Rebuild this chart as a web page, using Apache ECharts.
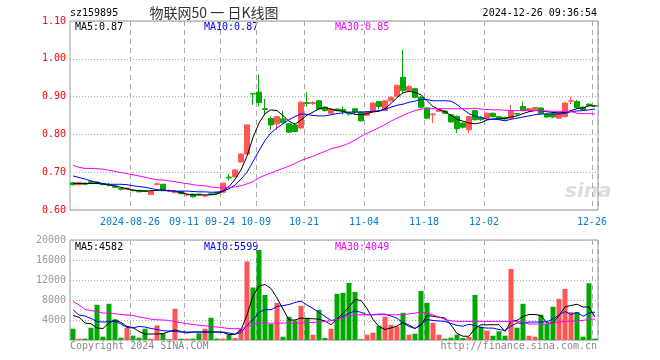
<!DOCTYPE html>
<html><head><meta charset="utf-8">
<script src="https://cdn.jsdelivr.net/npm/echarts@6/dist/echarts.min.js"></script>
<style>html,body{margin:0;padding:0;background:#fff}#c{width:660px;height:360px}</style>
</head><body><div id="c"></div>
<script>
const dates = ['2024-08-12','2024-08-13','2024-08-14','2024-08-15','2024-08-16','2024-08-19','2024-08-20','2024-08-21','2024-08-22','2024-08-23',
'2024-08-26','2024-08-27','2024-08-28','2024-08-29','2024-08-30','2024-09-02','2024-09-03','2024-09-04','2024-09-05','2024-09-11',
'2024-09-12','2024-09-13','2024-09-18','2024-09-19','2024-09-20','2024-09-24','2024-09-25','2024-09-26','2024-09-27','2024-09-30',
'2024-10-08','2024-10-09','2024-10-10','2024-10-11','2024-10-14','2024-10-15','2024-10-16','2024-10-17','2024-10-18','2024-10-21',
'2024-10-22','2024-10-23','2024-10-24','2024-10-25','2024-10-28','2024-10-29','2024-10-30','2024-10-31','2024-11-01','2024-11-04',
'2024-11-05','2024-11-06','2024-11-07','2024-11-08','2024-11-11','2024-11-12','2024-11-13','2024-11-14','2024-11-15','2024-11-18',
'2024-11-19','2024-11-20','2024-11-21','2024-11-22','2024-11-25','2024-11-26','2024-11-27','2024-11-28','2024-11-29','2024-12-02',
'2024-12-03','2024-12-04','2024-12-05','2024-12-06','2024-12-09','2024-12-10','2024-12-11','2024-12-12','2024-12-13','2024-12-16',
'2024-12-17','2024-12-18','2024-12-19','2024-12-20','2024-12-23','2024-12-24','2024-12-25','2024-12-26'];

// [open, close, low, high]
const ohlc = [
[0.672,0.667,0.665,0.674],[0.667,0.673,0.665,0.674],[0.671,0.668,0.667,0.672],[0.675,0.671,0.670,0.676],[0.674,0.670,0.669,0.675],
[0.670,0.667,0.666,0.671],[0.667,0.666,0.662,0.672],[0.663,0.660,0.659,0.664],[0.657,0.655,0.652,0.658],[0.655,0.658,0.654,0.659],
[0.652,0.651,0.650,0.653],[0.652,0.648,0.647,0.653],[0.651,0.649,0.648,0.652],[0.641,0.649,0.640,0.650],[0.668,0.669,0.665,0.673],
[0.668,0.651,0.650,0.669],[0.650,0.651,0.648,0.655],[0.646,0.648,0.645,0.649],[0.649,0.643,0.642,0.650],[0.640,0.641,0.637,0.643],
[0.642,0.635,0.633,0.643],[0.642,0.640,0.639,0.643],[0.637,0.638,0.635,0.640],[0.643,0.641,0.640,0.644],[0.647,0.644,0.642,0.648],
[0.647,0.671,0.646,0.672],[0.687,0.685,0.678,0.695],[0.688,0.706,0.686,0.708],[0.727,0.748,0.725,0.750],[0.748,0.825,0.746,0.826],
[0.908,0.907,0.878,0.909],[0.912,0.884,0.874,0.958],[0.868,0.866,0.850,0.894],[0.842,0.825,0.812,0.847],[0.828,0.847,0.812,0.848],
[0.841,0.831,0.829,0.863],[0.828,0.806,0.804,0.830],[0.825,0.808,0.806,0.830],[0.817,0.885,0.815,0.888],[0.884,0.882,0.873,0.912],
[0.882,0.884,0.878,0.888],[0.889,0.867,0.865,0.891],[0.872,0.863,0.860,0.874],[0.856,0.867,0.854,0.869],[0.867,0.863,0.861,0.869],
[0.866,0.862,0.852,0.874],[0.855,0.854,0.850,0.859],[0.868,0.859,0.852,0.870],[0.859,0.836,0.834,0.861],[0.850,0.859,0.848,0.860],
[0.859,0.883,0.857,0.884],[0.887,0.874,0.866,0.888],[0.863,0.889,0.862,0.890],[0.889,0.898,0.887,0.900],[0.901,0.930,0.900,0.932],
[0.951,0.916,0.910,1.024],[0.916,0.927,0.914,0.930],[0.921,0.898,0.895,0.923],[0.898,0.872,0.868,0.902],[0.870,0.843,0.840,0.872],
[0.852,0.854,0.830,0.856],[0.861,0.866,0.859,0.868],[0.862,0.856,0.854,0.864],[0.852,0.833,0.831,0.854],[0.848,0.815,0.803,0.850],
[0.830,0.819,0.816,0.832],[0.812,0.847,0.803,0.849],[0.863,0.839,0.836,0.865],[0.845,0.839,0.836,0.848],[0.841,0.856,0.839,0.858],
[0.856,0.847,0.845,0.858],[0.847,0.841,0.839,0.849],[0.845,0.841,0.839,0.847],[0.843,0.862,0.840,0.878],[0.855,0.854,0.851,0.857],
[0.874,0.863,0.861,0.887],[0.863,0.868,0.861,0.870],[0.865,0.871,0.863,0.872],[0.870,0.855,0.853,0.871],[0.854,0.846,0.844,0.856],
[0.854,0.846,0.843,0.856],[0.843,0.856,0.841,0.858],[0.847,0.883,0.845,0.885],[0.888,0.889,0.880,0.900],[0.887,0.871,0.868,0.891],
[0.872,0.866,0.864,0.874],[0.880,0.877,0.874,0.882],[0.876,0.875,0.873,0.878]];

const ma5 = [0.670,0.670,0.670,0.670,0.670,0.669,0.666,0.664,0.660,0.656,0.653,0.651,0.650,0.651,0.652,0.653,0.651,0.650,0.646,0.642,
0.640,0.640,0.640,0.640,0.642,0.650,0.662,0.681,0.706,0.742,0.792,0.830,0.855,0.865,0.863,0.850,0.835,0.827,0.838,0.851,
0.859,0.868,0.871,0.867,0.863,0.861,0.858,0.853,0.852,0.855,0.860,0.861,0.868,0.882,0.897,0.910,0.914,0.911,0.905,0.889,
0.874,0.866,0.860,0.850,0.840,0.835,0.830,0.828,0.831,0.838,0.841,0.841,0.842,0.846,0.849,0.855,0.860,0.863,0.863,0.860,
0.858,0.857,0.858,0.863,0.868,0.870,0.876,0.875];
const ma10 = [0.690,0.686,0.682,0.677,0.673,0.670,0.668,0.668,0.668,0.667,0.664,0.662,0.660,0.657,0.654,0.652,0.651,0.650,0.650,0.650,
0.649,0.648,0.648,0.647,0.647,0.650,0.656,0.666,0.682,0.700,0.728,0.757,0.784,0.804,0.817,0.828,0.839,0.847,0.854,0.853,
0.850,0.849,0.849,0.852,0.855,0.857,0.859,0.859,0.859,0.860,0.861,0.863,0.866,0.872,0.877,0.880,0.885,0.888,0.893,0.892,
0.889,0.889,0.889,0.888,0.879,0.866,0.855,0.848,0.845,0.840,0.840,0.839,0.836,0.840,0.843,0.846,0.849,0.852,0.854,0.854,
0.854,0.854,0.856,0.860,0.862,0.863,0.865,0.867];
const ma30 = [0.718,0.713,0.710,0.710,0.709,0.708,0.705,0.702,0.699,0.696,0.693,0.690,0.687,0.683,0.680,0.679,0.677,0.675,0.672,0.670,
0.667,0.665,0.664,0.661,0.659,0.659,0.659,0.661,0.664,0.669,0.675,0.685,0.692,0.698,0.704,0.710,0.716,0.723,0.731,0.737,
0.742,0.749,0.755,0.762,0.766,0.770,0.777,0.785,0.795,0.803,0.810,0.818,0.826,0.835,0.843,0.850,0.857,0.863,0.867,0.868,
0.868,0.868,0.868,0.868,0.868,0.868,0.868,0.869,0.867,0.866,0.865,0.865,0.864,0.863,0.863,0.863,0.863,0.863,0.863,0.862,
0.861,0.861,0.861,0.861,0.856,0.855,0.855,0.854];

const volume = [2260,270,270,2460,7040,660,7240,4120,460,2390,860,460,2260,270,2920,1330,200,6240,270,270,
270,1330,2260,4450,270,300,1060,400,2190,15700,10500,18000,9000,3200,7400,660,4650,3900,6840,4450,
1060,6040,400,2260,9230,9430,11420,9630,150,1060,1460,2850,4650,3050,2720,5440,1060,1260,9830,7440,
3450,1060,270,460,1060,400,600,9030,2660,1860,860,1730,860,14200,2460,7240,860,660,5050,3250,
6640,8230,10230,5580,5580,660,11350,270];
const vma5 = [4900,4550,3400,3250,2400,2300,3400,4000,3500,2720,2500,1700,1200,1200,1200,1250,1700,2000,1700,1400,
1600,1600,1600,1600,1600,1500,1100,1150,2000,5000,8800,10800,11100,10300,8400,6200,4000,4000,4400,4300,
4250,4150,3800,3050,4250,5300,6600,8100,7900,6300,4100,2700,2100,2400,2800,3500,3000,2300,3000,4900,
4750,4550,4400,3000,1300,750,750,2300,3050,3050,3050,3050,1750,3700,3920,4700,5100,5100,4900,3400,
3400,4900,6600,6900,7150,6600,6600,4600];
const vma10 = [6040,5000,4800,4300,3700,3590,3700,3800,3200,2500,2400,2700,2600,2300,2100,1850,1800,1700,1600,1590,
1590,1590,1590,1590,1590,1590,1400,1150,1500,2900,4050,5500,6100,6050,6700,6880,7100,7500,7800,7000,
6300,5500,4700,3920,4050,4700,5350,5800,5550,5050,5050,5180,5180,4800,4350,3400,2700,2300,3200,4100,
3900,3800,3720,3300,2950,2750,3150,2900,2500,2390,2390,2100,1900,2800,3390,3390,3590,3590,3590,3650,
4200,5000,5700,5100,5500,4750,5400,5580];
const vma30 = [7700,7040,6100,5900,5700,5380,5380,5250,5100,5000,4910,4600,4400,4150,4050,4000,3920,3650,3450,3250,
3100,2950,2850,2700,2600,2450,2300,2260,2260,2650,3100,3390,3390,3390,3390,3390,3390,3390,3390,3450,
3520,3590,3700,3850,4100,4500,4800,5050,5050,5050,5050,5050,5050,5050,5050,5050,5200,5380,5580,5400,
5000,4600,4100,3850,3720,3720,3720,3720,3720,3720,3720,3720,3720,3720,3720,3600,3200,3190,3190,3190,
3400,3550,3700,3750,3850,3920,4150,4180];

const tickDates = ['2024-08-26','2024-09-11','2024-09-24','2024-10-09','2024-10-21','2024-11-04','2024-11-18','2024-12-02','2024-12-26'];
const priceTicks = [0.6, 0.7, 0.8, 0.9, 1.0, 1.1];
const volTicks = [0, 4000, 8000, 12000, 16000, 20000];

const RED = '#ff5555', GREEN = '#00a800';
const MONO = 'DejaVu Sans Mono';
const F10 = '10px "DejaVu Sans Mono"';
const tickSet = new Set(tickDates);
const isTick = (i, v) => tickSet.has(v === undefined ? dates[i] : v);

const chart = echarts.init(document.getElementById('c'), null, {renderer: 'canvas'});
const volData = volume.map((v, i) => ({value: v, itemStyle: {color: ohlc[i][1] >= ohlc[i][0] ? RED : GREEN}}));

const gridLineStyle = {color: '#aaa', type: [5, 4], width: 1};
chart.setOption({
  animation: false,
  backgroundColor: '#fff',
  grid: [
    {left: 70, top: 21, width: 528, height: 189, show: true, borderColor: '#999', borderWidth: 1},
    {left: 70, top: 240, width: 528, height: 100, show: true, borderColor: '#999', borderWidth: 1}
  ],
  xAxis: [
    {type: 'category', gridIndex: 0, data: dates, boundaryGap: true,
     axisLine: {show: false}, axisTick: {show: false},
     axisLabel: {interval: (i, v) => isTick(i, v), formatter: v => v === tickDates[0] ? v : v.slice(5),
       color: '#0080d0', fontFamily: MONO, fontSize: 10, margin: 7, padding: [0, 6, 0, 0]},
     splitLine: {show: true, interval: (i, v) => isTick(i, v), lineStyle: gridLineStyle}},
    {type: 'category', gridIndex: 1, data: dates, boundaryGap: true,
     axisLine: {show: false}, axisTick: {show: false}, axisLabel: {show: false},
     splitLine: {show: true, interval: (i, v) => isTick(i, v), lineStyle: gridLineStyle}}
  ],
  yAxis: [
    {type: 'value', gridIndex: 0, min: priceTicks[0], max: priceTicks[priceTicks.length - 1], interval: 0.1,
     axisLine: {show: false}, axisTick: {show: false},
     axisLabel: {color: '#ff0000', fontFamily: MONO, fontSize: 10, margin: 4, formatter: v => v.toFixed(2)},
     splitLine: {show: true, lineStyle: {color: '#aaa', type: [1, 2]}}},
    {type: 'value', gridIndex: 1, min: volTicks[0], max: volTicks[volTicks.length - 1], interval: 4000,
     axisLine: {show: false}, axisTick: {show: false},
     axisLabel: {color: '#999', fontFamily: MONO, fontSize: 10, margin: 4, formatter: v => v === 0 ? '' : String(v)},
     splitLine: {show: true, lineStyle: {color: '#aaa', type: [1, 2]}}}
  ],
  series: [
    {type: 'candlestick', xAxisIndex: 0, yAxisIndex: 0, data: ohlc, barWidth: 5,
     itemStyle: {color: RED, color0: GREEN, borderColor: RED, borderColor0: GREEN, borderWidth: 1}},
    {type: 'line', xAxisIndex: 0, yAxisIndex: 0, data: ma5, symbol: 'none', lineStyle: {color: '#000', width: 1}},
    {type: 'line', xAxisIndex: 0, yAxisIndex: 0, data: ma10, symbol: 'none', lineStyle: {color: '#0000ff', width: 1}},
    {type: 'line', xAxisIndex: 0, yAxisIndex: 0, data: ma30, symbol: 'none', lineStyle: {color: '#ff00ff', width: 1}},
    {type: 'bar', xAxisIndex: 1, yAxisIndex: 1, data: volData, barWidth: 5},
    {type: 'line', xAxisIndex: 1, yAxisIndex: 1, data: vma5, symbol: 'none', lineStyle: {color: '#000', width: 1}},
    {type: 'line', xAxisIndex: 1, yAxisIndex: 1, data: vma10, symbol: 'none', lineStyle: {color: '#0000ff', width: 1}},
    {type: 'line', xAxisIndex: 1, yAxisIndex: 1, data: vma30, symbol: 'none', lineStyle: {color: '#ff00ff', width: 1}}
  ],
  graphic: [
    {type: 'text', left: 565, top: 182, z: 0, style: {text: 'sina', font: 'italic bold 20px "DejaVu Sans"', fill: '#dcdcdc'}},
    {type: 'text', x: 70, y: 13, style: {text: 'sz159895', font: F10, fill: '#000', textVerticalAlign: 'middle'}},
    {type: 'text', x: 214, y: 13, style: {text: '物联网50 一 日K线图', font: '14px "Noto Sans CJK SC"', fill: '#333', textAlign: 'center', textVerticalAlign: 'middle'}},
    {type: 'text', x: 597, y: 13, style: {text: '2024-12-26 09:36:54', font: F10, fill: '#000', textAlign: 'right', textVerticalAlign: 'middle'}},
    {type: 'text', x: 75, y: 27, style: {text: 'MA5:0.87', font: F10, fill: '#000', textVerticalAlign: 'middle'}},
    {type: 'text', x: 204, y: 27, style: {text: 'MA10:0.87', font: F10, fill: '#0000ff', textVerticalAlign: 'middle'}},
    {type: 'text', x: 335, y: 27, style: {text: 'MA30:0.85', font: F10, fill: '#ff00ff', textVerticalAlign: 'middle'}},
    {type: 'text', x: 75, y: 247, style: {text: 'MA5:4582', font: F10, fill: '#000', textVerticalAlign: 'middle'}},
    {type: 'text', x: 204, y: 247, style: {text: 'MA10:5599', font: F10, fill: '#0000ff', textVerticalAlign: 'middle'}},
    {type: 'text', x: 335, y: 247, style: {text: 'MA30:4049', font: F10, fill: '#ff00ff', textVerticalAlign: 'middle'}},
    {type: 'text', x: 70, y: 346, style: {text: 'Copyright 2024 SINA.COM', font: F10, fill: '#888', textVerticalAlign: 'middle'}},
    {type: 'text', x: 597, y: 346, style: {text: 'http://finance.sina.com.cn', font: F10, fill: '#888', textAlign: 'right', textVerticalAlign: 'middle'}}
  ]
});
</script></body></html>
